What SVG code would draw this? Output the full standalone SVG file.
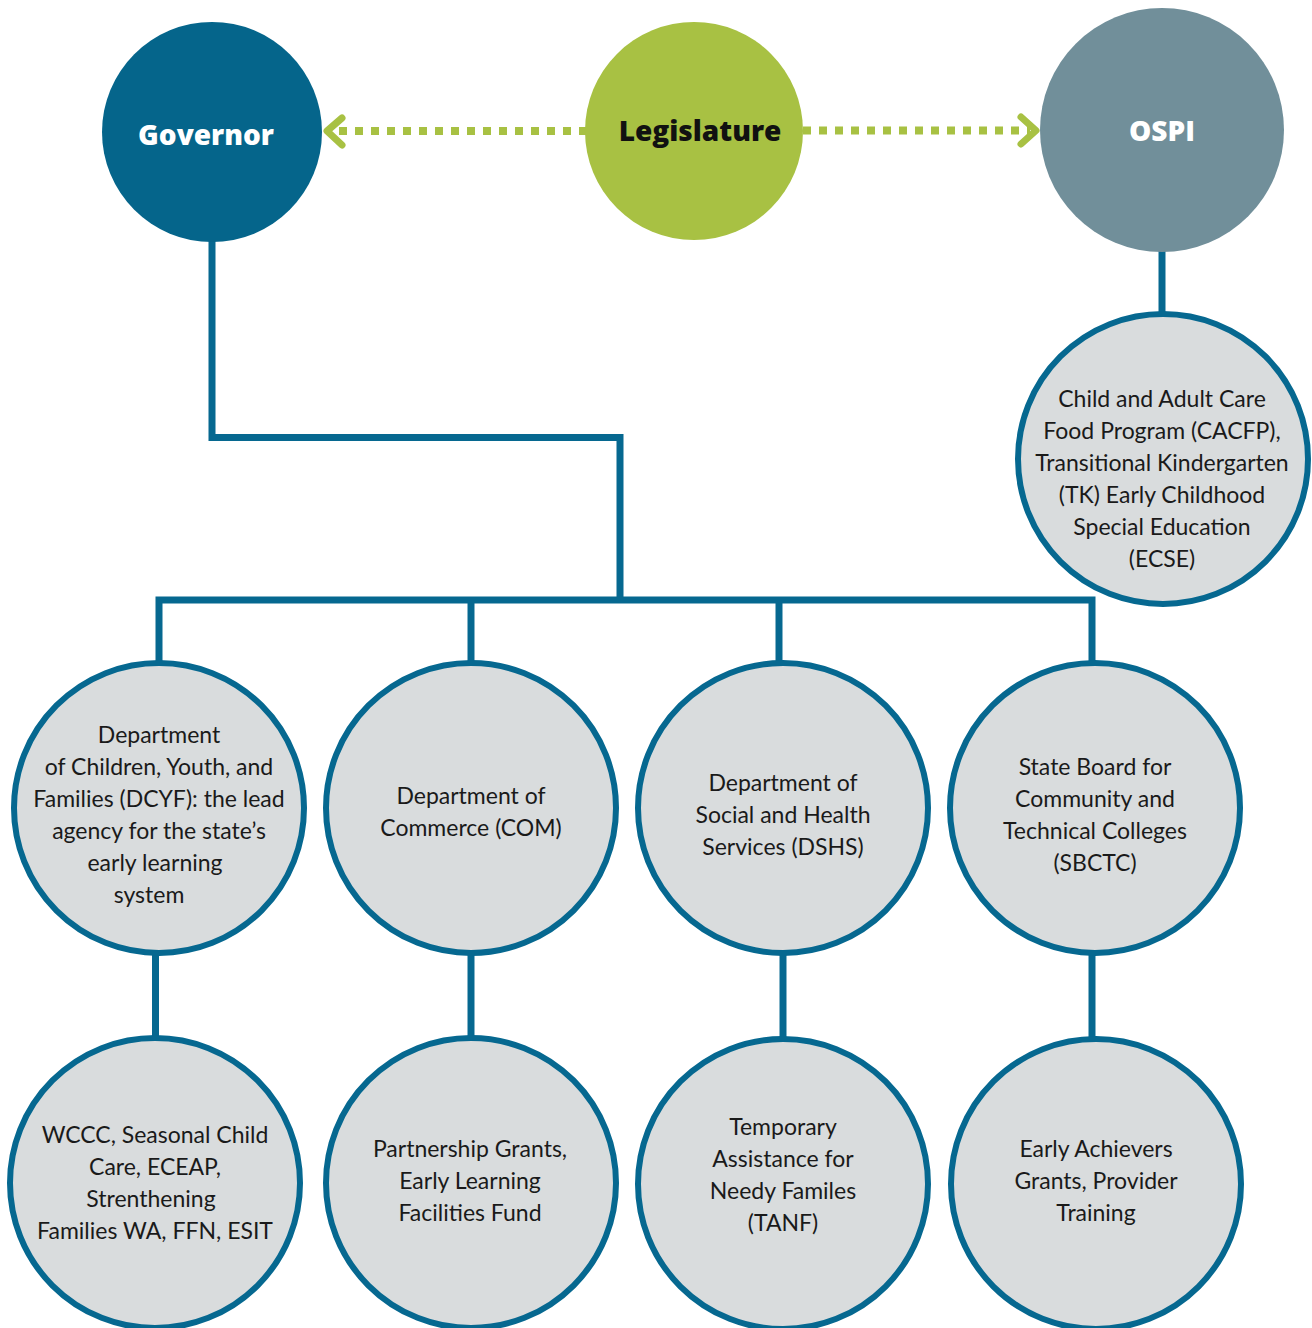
<svg xmlns="http://www.w3.org/2000/svg" width="1312" height="1328" viewBox="0 0 1312 1328">
<style>
.conn{fill:none;stroke:#066890;stroke-width:7;stroke-linecap:butt;stroke-linejoin:miter}
.dash{fill:none;stroke:#a8c143;stroke-width:8;stroke-dasharray:8 8}
.head{fill:none;stroke:#a8c143;stroke-width:7;stroke-linecap:round;stroke-linejoin:round}
.box{fill:#d9dcdd;stroke:#066890;stroke-width:6}
.t{font-family:Lato,"Open Sans","Liberation Sans",sans-serif;font-size:23px;fill:#1a1a1a;text-anchor:middle}
.h{font-family:"Open Sans",Lato,"Liberation Sans",sans-serif;font-size:28px;font-weight:800;text-anchor:middle}
</style>
<rect width="1312" height="1328" fill="#ffffff"/>
<g id="connectors">
<path class="conn" d="M212 240 V437.5 H620 V600"/>
<path class="conn" d="M159 663 V600 H1092 V663"/>
<path class="conn" d="M471 600 V663"/>
<path class="conn" d="M779 600 V663"/>
<path class="conn" d="M1162 250 V313"/>
<path class="conn" d="M155.5 955 V1037"/>
<path class="conn" d="M471 955 V1037"/>
<path class="conn" d="M783 955 V1037"/>
<path class="conn" d="M1092 955 V1037"/>
<path class="dash" d="M587 131 H333"/>
<path class="head" d="M342 118 L327 131 L342 145"/>
<path class="dash" d="M803 130.5 H1030"/>
<path class="head" d="M1021 117 L1036 130.5 L1021 144"/>
</g>
<g id="governor">
<circle cx="212" cy="132" r="110" fill="#05658b"/>
<text class="h" x="206" y="145" fill="#ffffff">Governor</text>
</g>
<g id="legislature">
<circle cx="694" cy="131" r="109" fill="#a8c143"/>
<text class="h" x="700" y="141" fill="#111111">Legislature</text>
</g>
<g id="ospi">
<circle cx="1162" cy="130" r="122" fill="#718f9a"/>
<text class="h" x="1162" y="141" fill="#ffffff">OSPI</text>
</g>
<g id="cacfp">
<circle class="box" cx="1163" cy="459" r="145"/>
<text class="t" x="1162" y="407">Child and Adult Care</text>
<text class="t" x="1162" y="439">Food Program (CACFP),</text>
<text class="t" x="1162" y="471">Transitional Kindergarten</text>
<text class="t" x="1162" y="503">(TK) Early Childhood</text>
<text class="t" x="1162" y="535">Special Education</text>
<text class="t" x="1162" y="567">(ECSE)</text>
</g>
<g id="dcyf">
<circle class="box" cx="159" cy="808" r="145"/>
<text class="t" x="159" y="743">Department</text>
<text class="t" x="159" y="775">of Children, Youth, and</text>
<text class="t" x="159" y="807">Families (DCYF): the lead</text>
<text class="t" x="159" y="839">agency for the state’s</text>
<text class="t" x="155" y="871">early learning</text>
<text class="t" x="149" y="903">system</text>
</g>
<g id="com">
<circle class="box" cx="471" cy="808" r="145"/>
<text class="t" x="471" y="804">Department of</text>
<text class="t" x="471" y="836">Commerce (COM)</text>
</g>
<g id="dshs">
<circle class="box" cx="783" cy="808" r="145"/>
<text class="t" x="783" y="791">Department of</text>
<text class="t" x="783" y="823">Social and Health</text>
<text class="t" x="783" y="855">Services (DSHS)</text>
</g>
<g id="sbctc">
<circle class="box" cx="1095" cy="808" r="145"/>
<text class="t" x="1095" y="775">State Board for</text>
<text class="t" x="1095" y="807">Community and</text>
<text class="t" x="1095" y="839">Technical Colleges</text>
<text class="t" x="1095" y="871">(SBCTC)</text>
</g>
<g id="wccc">
<circle class="box" cx="155" cy="1183" r="145"/>
<text class="t" x="155" y="1143">WCCC, Seasonal Child</text>
<text class="t" x="155" y="1175">Care, ECEAP,</text>
<text class="t" x="151" y="1207">Strenthening</text>
<text class="t" x="155" y="1239">Families WA, FFN, ESIT</text>
</g>
<g id="partnership">
<circle class="box" cx="471" cy="1183" r="145"/>
<text class="t" x="470" y="1157">Partnership Grants,</text>
<text class="t" x="470" y="1189">Early Learning</text>
<text class="t" x="470" y="1221">Facilities Fund</text>
</g>
<g id="tanf">
<circle class="box" cx="783" cy="1184" r="145"/>
<text class="t" x="783" y="1135">Temporary</text>
<text class="t" x="783" y="1167">Assistance for</text>
<text class="t" x="783" y="1199">Needy Familes</text>
<text class="t" x="783" y="1231">(TANF)</text>
</g>
<g id="early-achievers">
<circle class="box" cx="1096" cy="1184" r="145"/>
<text class="t" x="1096" y="1157">Early Achievers</text>
<text class="t" x="1096" y="1189">Grants, Provider</text>
<text class="t" x="1096" y="1221">Training</text>
</g>
</svg>
